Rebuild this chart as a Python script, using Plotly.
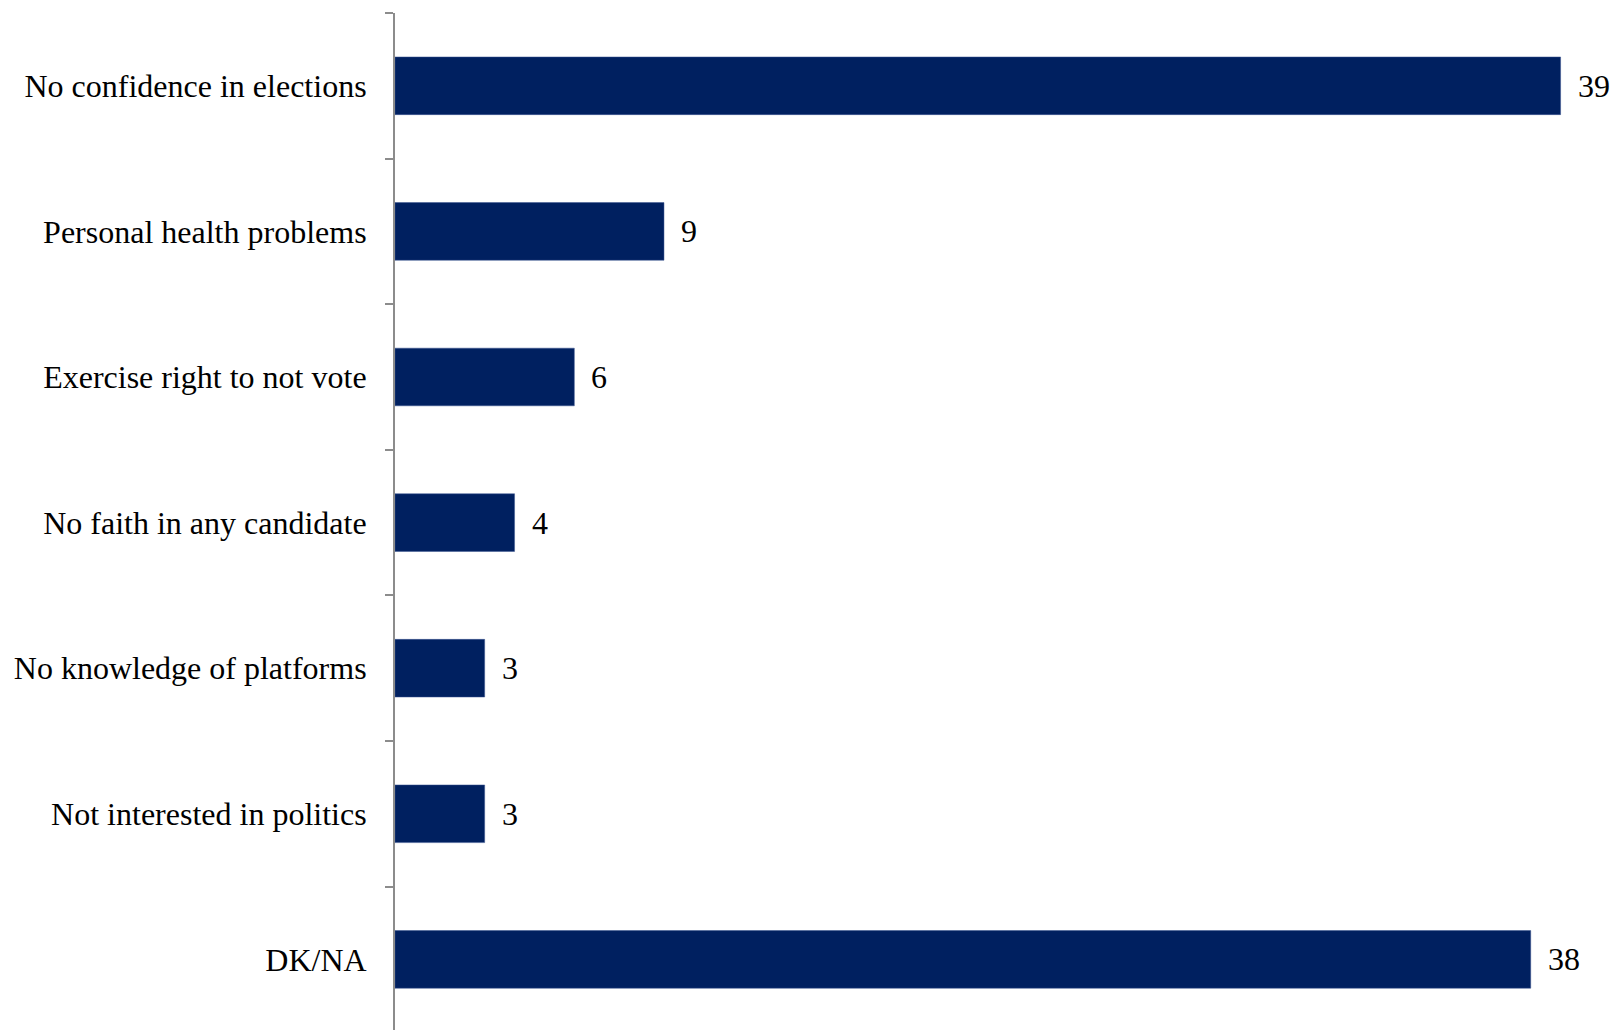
import plotly.graph_objects as go

categories = [
    "No confidence in elections",
    "Personal health problems",
    "Exercise right to not vote",
    "No faith in any candidate",
    "No knowledge of platforms",
    "Not interested in politics",
    "DK/NA",
]
values = [39, 9, 6, 4, 3, 3, 38]

FONT = "Liberation Serif, Times New Roman, serif"
BAR_COLOR = "#002060"

fig = go.Figure()
fig.add_trace(go.Bar(
    x=values,
    y=categories,
    orientation="h",
    marker=dict(color=BAR_COLOR, line=dict(color="#3a5590", width=0.5)),
    width=0.396,
    hoverinfo="x+y",
))

for c, v in zip(categories, values):
    fig.add_annotation(
        x=v, y=c, text=str(v), showarrow=False,
        xanchor="left", yanchor="middle", xshift=15,
        font=dict(family=FONT, size=32, color="black"),
    )

fig.update_layout(
    width=1612, height=1030,
    margin=dict(l=395, r=0, t=13, b=0, pad=0),
    plot_bgcolor="white", paper_bgcolor="white",
    showlegend=False,
    font=dict(family=FONT, size=32, color="black"),
    xaxis=dict(
        range=[0, 40.72], visible=False, showgrid=False, zeroline=False,
    ),
    yaxis=dict(
        type="category",
        categoryorder="array", categoryarray=categories,
        range=[6.485, -0.5],
        showline=True, linecolor="#8c8c8c", linewidth=2,
        ticks="outside", tickson="boundaries", ticklen=8,
        tickcolor="#8c8c8c", tickwidth=2,
        ticklabelstandoff=20,
        showgrid=False, zeroline=False,
        tickfont=dict(family=FONT, size=32, color="black"),
    ),
)

fig.write_html(
    "out.html",
    config={"displayModeBar": False},
    post_script="document.body.style.margin='0';document.body.style.overflow='hidden';",
)
